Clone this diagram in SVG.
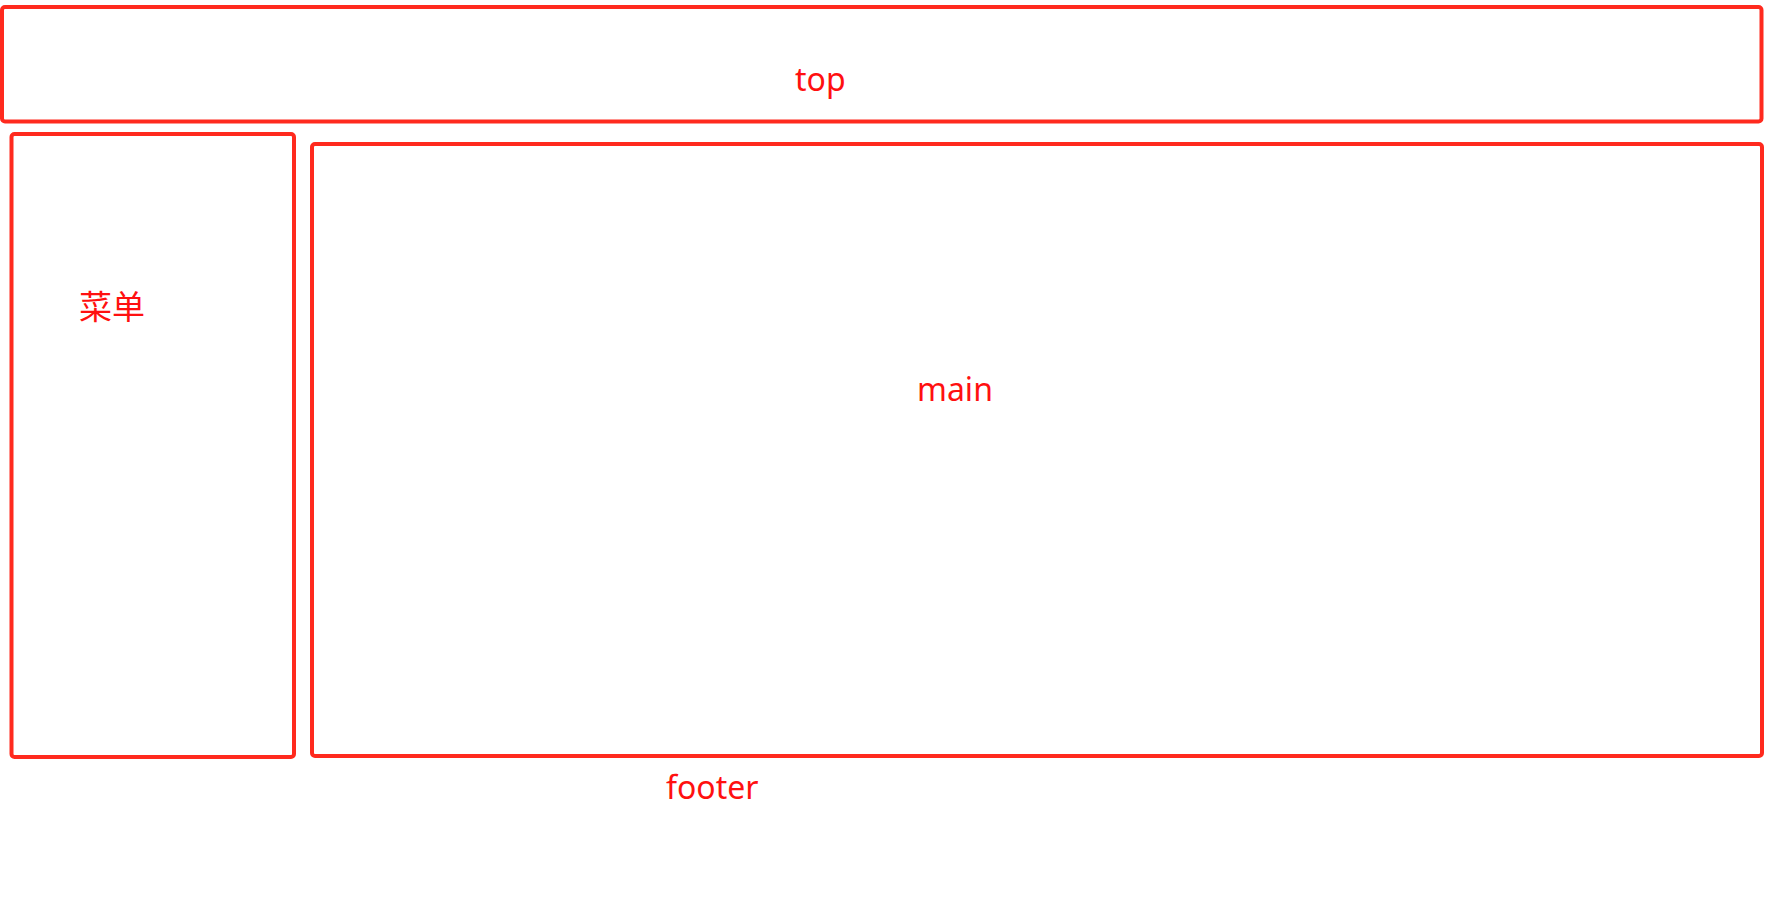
<svg xmlns="http://www.w3.org/2000/svg" width="1773" height="898" viewBox="0 0 1773 898">
<style>
.box{fill:none;stroke:#FF2A1E;stroke-width:4;stroke-linejoin:round}
.lbl{fill:#FF1010;font-family:"Noto Sans","Noto Sans CJK SC",sans-serif;font-size:32px}
</style>
<rect width="1773" height="898" fill="#FFFFFF"/>
<g id="top">
<rect class="box" x="2" y="7" width="1759.5" height="114.5" rx="3"/>
<text class="lbl" x="795" y="91">top</text>
</g>
<g id="menu">
<rect class="box" x="11.5" y="134" width="282.5" height="623" rx="3"/>
<text class="lbl" x="79" y="319" style="font-size:33px">菜单</text>
</g>
<g id="main">
<rect class="box" x="312" y="144" width="1450" height="612" rx="3"/>
<text class="lbl" x="917" y="401">main</text>
</g>
<g id="footer">
<text class="lbl" x="666" y="799">footer</text>
</g>
<g id="connectors"></g>
</svg>
